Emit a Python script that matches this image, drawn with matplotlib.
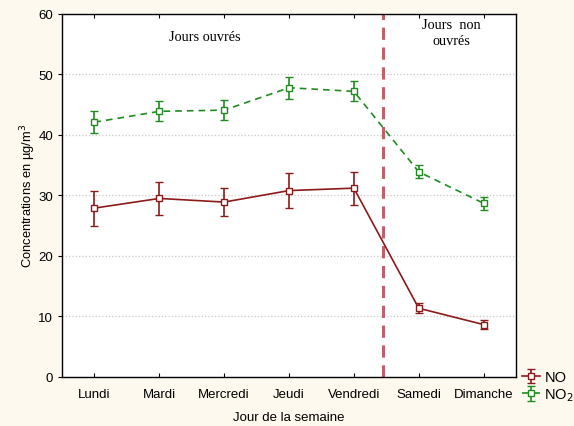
import matplotlib
matplotlib.use('Agg')
import matplotlib.pyplot as plt

plt.rcParams['font.family'] = ['Liberation Sans', 'DejaVu Sans']

jours = ['Lundi', 'Mardi', 'Mercredi', 'Jeudi', 'Vendredi', 'Samedi', 'Dimanche']
no_moy = [27.9, 29.5, 28.9, 30.8, 31.2, 11.35, 8.65]
no_err = [2.9, 2.8, 2.35, 2.9, 2.75, 0.85, 0.75]
no2_moy = [42.1, 43.9, 44.1, 47.8, 47.2, 33.9, 28.7]
no2_err = [1.8, 1.65, 1.65, 1.8, 1.65, 1.1, 1.1]

rouge = '#8b1a1a'
vert = '#1f8c1f'

fig = plt.figure(figsize=(5.74, 4.27), dpi=100, facecolor='#fdf9ef')
ax = fig.add_axes([0.108, 0.115, 0.791, 0.850])
x = list(range(len(jours)))

h_no = ax.errorbar(x, no_moy, yerr=no_err, color=rouge, lw=1.2, marker='s', ms=5,
                   mfc='white', mec=rouge, mew=1.0, capsize=3, elinewidth=1.2, capthick=1.2,
                   label='NO', zorder=3)
h_no2 = ax.errorbar(x, no2_moy, yerr=no2_err, color=vert, lw=1.2, ls=(0, (4, 3)), marker='s', ms=5,
                    mfc='white', mec=vert, mew=1.0, capsize=3, elinewidth=1.2, capthick=1.2,
                    label='NO$_2$', zorder=3)

ax.axvline(4.45, color='#c0606a', lw=2.2, ls=(0, (4, 2.5)), zorder=2)

ax.set_xlim(-0.5, 6.5)
ax.set_ylim(0, 60)
ax.set_xticks(x)
ax.set_xticklabels(jours, fontsize=9.5)
ax.set_yticks(range(0, 61, 10))
ax.tick_params(axis='y', labelsize=9.5, direction='out', length=3)
ax.tick_params(axis='x', direction='in', top=True, length=3, pad=8)
ax.yaxis.grid(True, color='#c8c8c8', ls=':', lw=0.9)
ax.set_axisbelow(True)
for s in ax.spines.values():
    s.set_linewidth(1.0)

ax.set_xlabel('Jour de la semaine', fontsize=9.5, labelpad=8)
ax.set_ylabel('Concentrations en µg/m$^3$', fontsize=9.3, labelpad=0)

ax.text(1.7, 56.2, 'Jours ouvrés', family='Liberation Serif', fontsize=10.3,
        ha='center', va='center')
ax.text(5.5, 59.3, 'Jours  non\nouvrés', family='Liberation Serif', fontsize=10.3,
        ha='center', va='top', linespacing=1.3)

fig.legend(handles=[h_no, h_no2], loc='lower left', bbox_to_anchor=(0.9, 0.04),
           frameon=False, fontsize=10.5, handlelength=1.2, handletextpad=0.3,
           labelspacing=0.15, borderaxespad=0)

fig.savefig('out.png', dpi=100, facecolor=fig.get_facecolor())
